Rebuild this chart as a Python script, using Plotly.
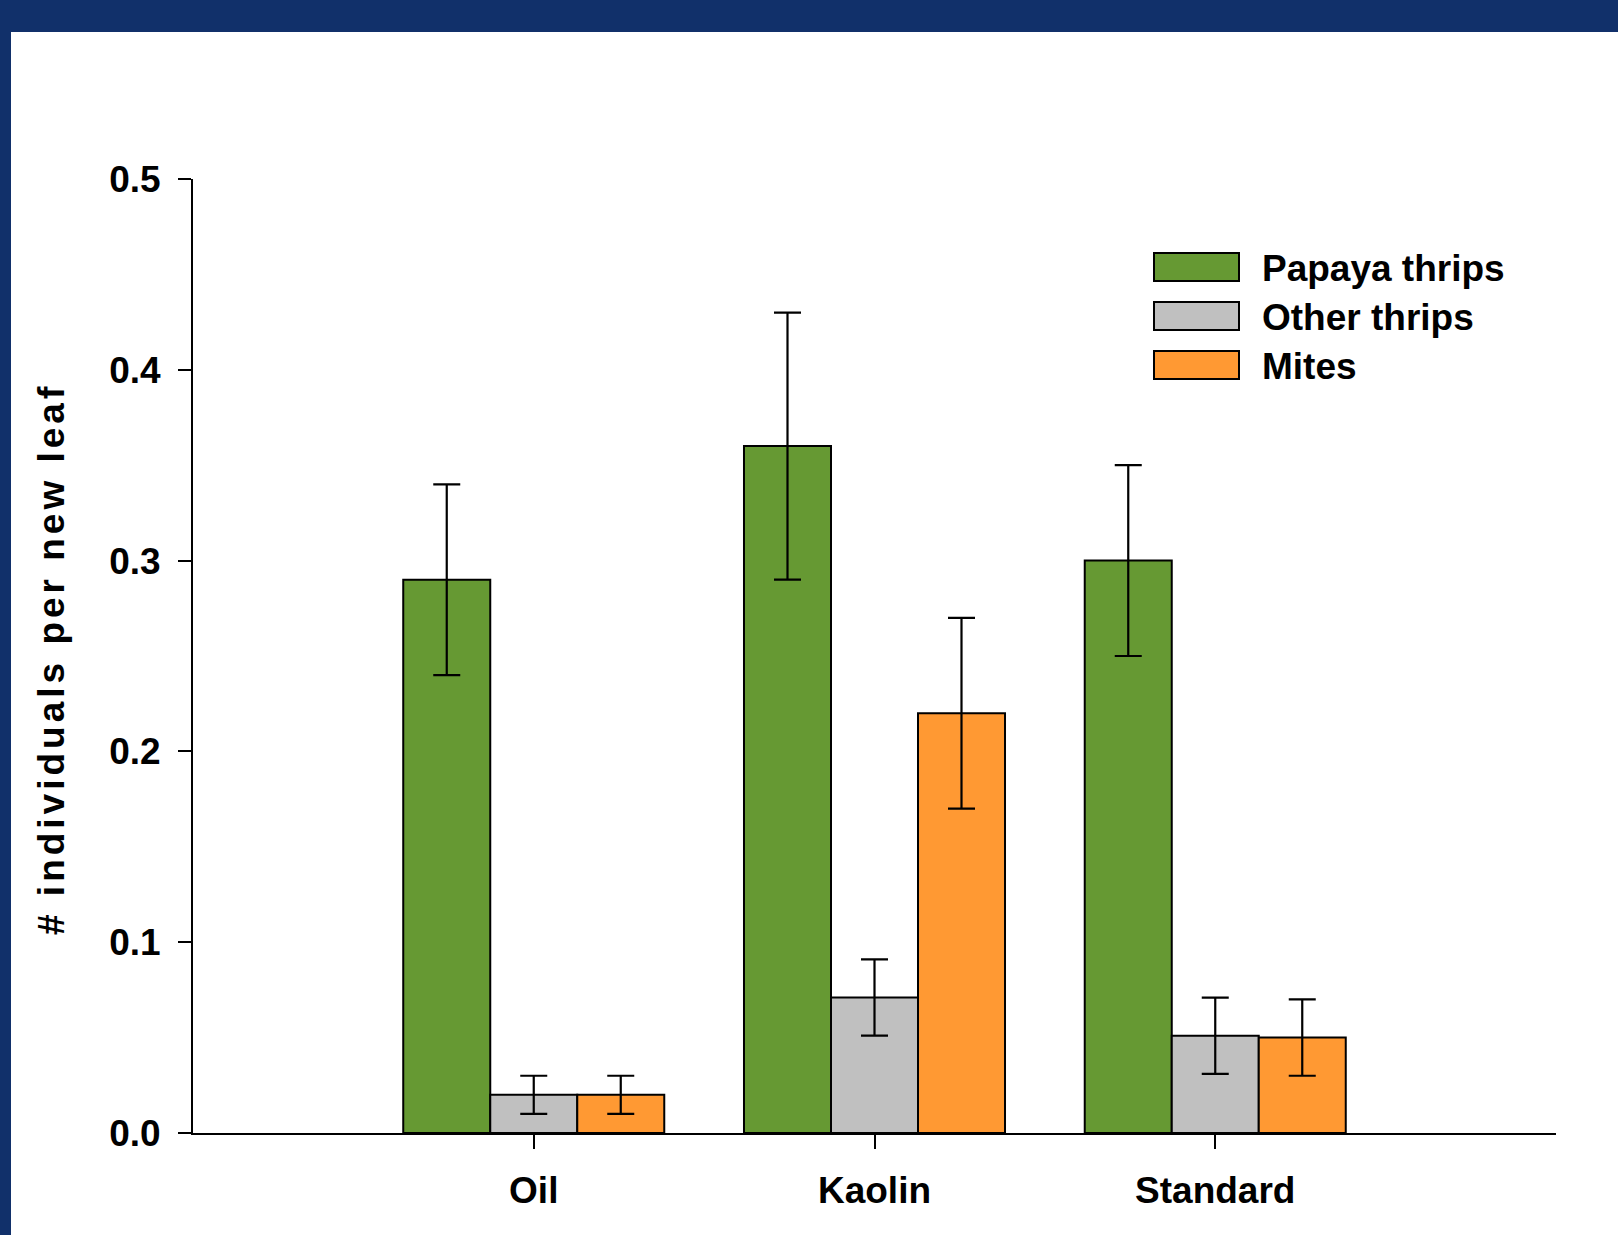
import plotly.graph_objects as go

# ---- data ----
categories = ["Oil", "Kaolin", "Standard"]
series_names = ["Papaya thrips", "Other thrips", "Mites"]
papaya_vals = [0.29, 0.36, 0.30]
papaya_err = [0.05, 0.07, 0.05]
other_vals = [0.02, 0.071, 0.051]
other_err = [0.01, 0.02, 0.02]
mites_vals = [0.02, 0.22, 0.05]
mites_err = [0.01, 0.05, 0.02]
y_ticks = [0.0, 0.1, 0.2, 0.3, 0.4, 0.5]
y_title = "# individuals per new leaf"

# ---- style ----
colors = ["#669933", "#C0C0C0", "#FF9933"]
NAVY = "#11306A"
FONT = "Liberation Sans, Arial, sans-serif"
W, H = 1618, 1235
L, R, T, B = 193, 1556, 179, 1133  # plot area in px


def px_x(px):
    return (px - L) / (R - L)


def px_y(py):
    return (B - py) / (B - T)


values = [papaya_vals, other_vals, mites_vals]
errors = [papaya_err, other_err, mites_err]

fig = go.Figure()
for name, vals, errs, col in zip(series_names, values, errors, colors):
    fig.add_trace(go.Bar(
        x=categories, y=vals, name=name,
        marker=dict(color=col, line=dict(color="black", width=2)),
        error_y=dict(type="data", array=errs, visible=True,
                     color="black", thickness=2.2, width=13.5),
        showlegend=False,
    ))

shapes = [
    # navy frame
    dict(type="rect", xref="paper", yref="paper",
         x0=px_x(-5), x1=px_x(W + 5), y0=px_y(32), y1=px_y(-5),
         fillcolor=NAVY, line=dict(width=0), layer="above"),
    dict(type="rect", xref="paper", yref="paper",
         x0=px_x(-5), x1=px_x(11), y0=px_y(H + 5), y1=px_y(-5),
         fillcolor=NAVY, line=dict(width=0), layer="above"),
]
annotations = []
# manual legend
leg_top = [253, 302, 351]
for i, (name, col) in enumerate(zip(series_names, colors)):
    y0 = leg_top[i]
    shapes.append(dict(type="rect", xref="paper", yref="paper",
                       x0=px_x(1154), x1=px_x(1239), y0=px_y(y0 + 28), y1=px_y(y0),
                       fillcolor=col, line=dict(color="black", width=2)))
    annotations.append(dict(text=name, xref="paper", yref="paper",
                            x=px_x(1260), y=px_y(y0 + 15), xanchor="left", yanchor="middle",
                            showarrow=False, font=dict(family=FONT, size=37, color="black",
                                                       weight="bold")))
annotations.append(dict(text=y_title, xref="paper", yref="paper",
                        x=px_x(51), y=px_y(659), xanchor="center", yanchor="middle",
                        textangle=-90, showarrow=False,
                        font=dict(family=FONT, size=37, color="black", weight="bold")))

fig.update_layout(
    width=W, height=H,
    margin=dict(l=L, r=W - R, t=T, b=H - B, pad=0),
    paper_bgcolor="white", plot_bgcolor="white",
    barmode="group", bargap=0.234, bargroupgap=0,
    shapes=shapes, annotations=annotations,
    font=dict(family=FONT, size=37, color="black", weight="bold"),
    xaxis=dict(range=[-1, 3], showline=True, linecolor="black", linewidth=2,
               ticks="outside", ticklen=14, tickwidth=2, tickcolor="black",
               showgrid=False, zeroline=False,
               tickfont=dict(family=FONT, size=37, color="black", weight="bold"),
               ticklabelstandoff=10),
    yaxis=dict(range=[0, 0.5], showline=True, linecolor="black", linewidth=2,
               ticks="outside", ticklen=13, tickwidth=2, tickcolor="black",
               tickvals=y_ticks, ticktext=[f"{v:.1f}" for v in y_ticks],
               showgrid=False, zeroline=False,
               tickfont=dict(family=FONT, size=37, color="black", weight="bold"),
               ticklabelstandoff=10),
)

post = """
document.body.style.margin='0';
document.body.style.overflow='hidden';
document.querySelectorAll('.annotation-text').forEach(function(e){
  if (e.textContent.indexOf('#') === 0) { e.style.letterSpacing='4.0px'; }
});
"""
fig.write_html("out.html", post_script=post, config={"displayModeBar": False})
